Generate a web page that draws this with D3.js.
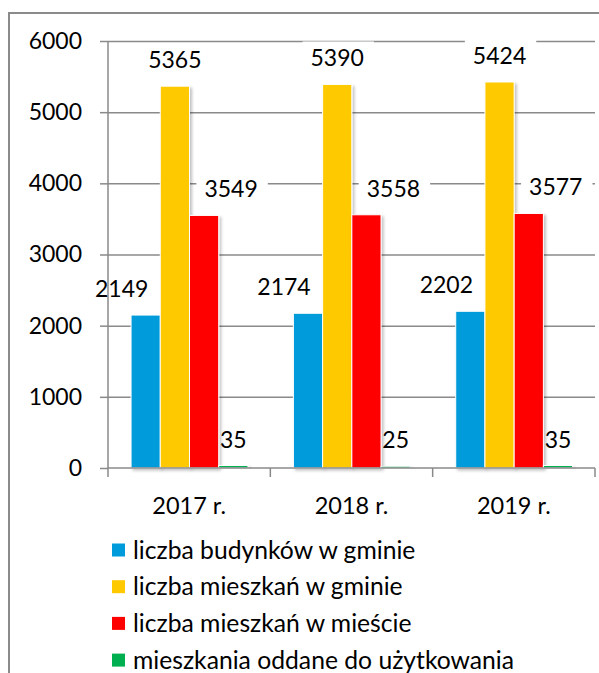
<!DOCTYPE html>
<html>
<head>
<meta charset="utf-8">
<script src="https://cdn.jsdelivr.net/npm/d3@7"></script>
<style>
  body { margin: 0; background: #fff; }
  text { font-family: Lato, "Open Sans", sans-serif; fill: #000; }
</style>
</head>
<body>
<div id="chart"></div>
<script>
// chart data
const years = ["2017 r.", "2018 r.", "2019 r."];
const series = [
  "liczba budynków w gminie",
  "liczba mieszkań w gminie",
  "liczba mieszkań w mieście",
  "mieszkania oddane do użytkowania"
];
const budynkiGmina = [2149, 2174, 2202];
const mieszkaniaGmina = [5365, 5390, 5424];
const mieszkaniaMiasto = [3549, 3558, 3577];
const mieszkaniaOddane = [35, 25, 35];
const yTicks = [0, 1000, 2000, 3000, 4000, 5000, 6000];

const values = [budynkiGmina, mieszkaniaGmina, mieszkaniaMiasto, mieszkaniaOddane];
const colours = ["#009bdb", "#ffc900", "#ff0000", "#00b050"];
// label nudges, like the hand-moved labels in the original
const labelDx = [-24, 0, 27, 0];
const labelDy = -26;

const width = 599, height = 673;
const plotLeft = 108, plotRight = 595, plotTop = 41, plotBottom = 468;
const numSize = 23, catSize = 23.5, legendSize = 24.7;
const grey = "#8a8a8a";

const svg = d3.select("#chart").append("svg")
    .attr("width", width)
    .attr("height", height);

const defs = svg.append("defs");
const f = defs.append("filter").attr("id", "shadow")
    .attr("x", "-20%").attr("y", "-5%").attr("width", "150%").attr("height", "115%");
f.append("feDropShadow")
    .attr("dx", 2).attr("dy", 2).attr("stdDeviation", 1.5)
    .attr("flood-color", "#000").attr("flood-opacity", 0.25);

// outer frame (runs off the right and bottom edges)
svg.append("rect")
    .attr("x", 9).attr("y", 13)
    .attr("width", 620).attr("height", 700)
    .attr("fill", "none")
    .attr("stroke", grey)
    .attr("stroke-width", 2);

const x = d3.scaleBand().domain(years).range([plotLeft, plotRight]);
const x1 = d3.scaleBand().domain(series)
    .range([x.bandwidth() * 0.142, x.bandwidth() * 0.862]);
const y = d3.scaleLinear().domain([0, 6000]).range([plotBottom, plotTop]);

// gridlines
svg.append("g")
    .attr("transform", `translate(${plotLeft},0)`)
    .call(d3.axisLeft(y).tickValues(yTicks.slice(1)).tickSize(-(plotRight - plotLeft)).tickFormat(""))
    .call(g => g.select(".domain").remove())
    .call(g => g.selectAll("line").attr("stroke", grey).attr("stroke-width", 1.5));

const rows = [];
years.forEach((yr, i) => {
  series.forEach((s, j) => rows.push({ year: yr, s: s, j: j, v: values[j][i] }));
});

const labelX = d => x(d.year) + x1(d.s) + x1.bandwidth() / 2 + labelDx[d.j];
const labelY = d => y(d.v) + labelDy;

// white boxes behind labels (they hide the gridlines, not the bars)
const labelBg = svg.append("g");

// bars
svg.append("g").selectAll("rect")
    .data(rows)
    .enter().append("rect")
    .attr("x", d => x(d.year) + x1(d.s))
    .attr("y", d => y(d.v))
    .attr("width", x1.bandwidth())
    .attr("height", d => plotBottom - y(d.v))
    .attr("fill", d => colours[d.j])
    .attr("stroke", "#fff")
    .attr("stroke-width", 1)
    .attr("filter", "url(#shadow)");

// y axis
const yAxis = svg.append("g")
    .attr("transform", `translate(${plotLeft},0)`)
    .call(d3.axisLeft(y).tickValues(yTicks).tickFormat(d3.format("d"))
      .tickSize(8).tickPadding(18).tickSizeOuter(0));
yAxis.select(".domain").attr("stroke", grey).attr("stroke-width", 1.5)
    .attr("d", `M0,${plotTop}V${plotBottom + 9}`);
yAxis.selectAll("line").attr("stroke", grey).attr("stroke-width", 1.5);
yAxis.selectAll("text").attr("font-size", numSize).attr("font-family", "Lato");

// x axis
const xAxis = svg.append("g")
    .attr("transform", `translate(0,${plotBottom})`)
    .call(d3.axisBottom(x).tickSize(0).tickPadding(29));
xAxis.select(".domain").attr("stroke", grey).attr("stroke-width", 1.5)
    .attr("d", `M${plotLeft},0H${plotRight}`);
xAxis.selectAll("text").attr("font-size", catSize).attr("font-family", "Lato");
xAxis.selectAll(".sep")
    .data(years)
    .enter().append("line")
    .attr("class", "sep")
    .attr("x1", d => x(d) + x.bandwidth()).attr("x2", d => x(d) + x.bandwidth())
    .attr("y1", 0).attr("y2", 9)
    .attr("stroke", grey).attr("stroke-width", 1.5);

// data labels
const labels = svg.append("g").selectAll("text")
    .data(rows)
    .enter().append("text")
    .attr("x", labelX)
    .attr("y", labelY)
    .attr("text-anchor", "middle")
    .attr("dy", "0.35em")
    .attr("font-size", numSize)
    .text(d => d.v);
labels.each(function () {
  const b = this.getBBox();
  labelBg.append("rect")
      .attr("x", b.x - 8).attr("y", b.y - 2)
      .attr("width", b.width + 18).attr("height", b.height + 4)
      .attr("fill", "#fff");
});

// legend
const legend = svg.append("g").selectAll("g")
    .data(series)
    .enter().append("g")
    .attr("transform", (d, i) => `translate(112,${550 + i * 36.7})`);
legend.append("rect")
    .attr("x", 0).attr("y", -6.5)
    .attr("width", 13).attr("height", 13)
    .attr("fill", (d, i) => colours[i]);
legend.append("text")
    .attr("x", 21)
    .attr("dy", "0.35em")
    .attr("font-size", legendSize)
    .text(d => d);
</script>
</body>
</html>
